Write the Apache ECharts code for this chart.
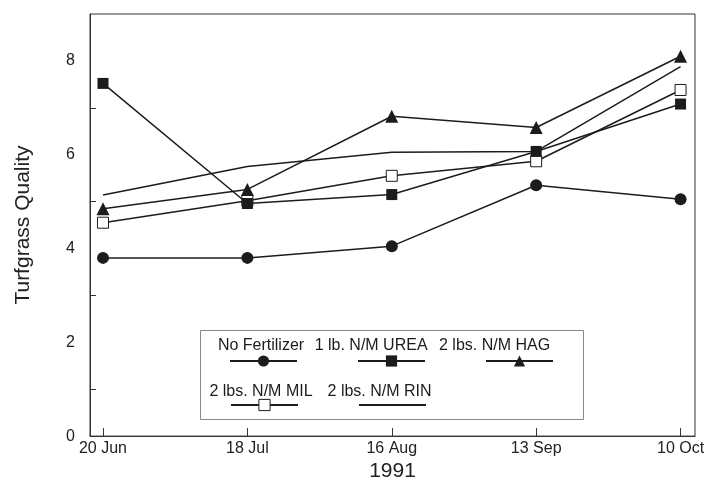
<!DOCTYPE html>
<html>
<head>
<meta charset="utf-8">
<script src="https://cdn.jsdelivr.net/npm/echarts@6/dist/echarts.min.js"></script>
<style>html,body{margin:0;padding:0;background:#fff;}#c{width:710px;height:487px;}</style>
</head>
<body>
<div id="c"></div>
<script>
var dates = ['20 Jun', '18 Jul', '16 Aug', '13 Sep', '10 Oct'];
var yTickLabels = [0, 2, 4, 6, 8];
var noFertilizer = [3.8, 3.8, 4.05, 5.35, 5.05];
var urea1lb = [7.52, 4.96, 5.15, 6.07, 7.08];
var hag2lbs = [4.85, 5.26, 6.82, 6.58, 8.1];
var mil2lbs = [4.55, 5.02, 5.55, 5.86, 7.38];
var rin2lbs = [5.14, 5.75, 6.05, 6.07, 7.88];
var names = ['No Fertilizer', '1 lb. N/M UREA', '2 lbs. N/M HAG', '2 lbs. N/M MIL', '2 lbs. N/M RIN'];

var INK = '#1c1c1c';
var FONT = 'Liberation Sans, Arial, sans-serif';
function pts(arr) { return arr.map(function (v, i) { return [i, v]; }); }

function mkSeries(name, arr, symbol, size, itemStyle, z, showSymbol) {
  return {
    name: name, type: 'line', data: pts(arr),
    symbol: symbol, symbolSize: size, showSymbol: showSymbol !== false,
    lineStyle: { color: INK, width: 1.5 },
    itemStyle: itemStyle,
    emphasis: { disabled: true },
    z: z
  };
}

var textLegendBase = {
  orient: 'horizontal', padding: 0, icon: 'none', itemWidth: 0, itemHeight: 0, itemGap: 0,
  selectedMode: false,
  formatter: function (n) { return '{t|' + n + '}'; },
  textStyle: { rich: { t: { width: 124, align: 'center', fontSize: 16, fontFamily: FONT, color: INK } } }
};
var iconLegendBase = {
  orient: 'horizontal', padding: 0, itemWidth: 67, itemHeight: 14, itemGap: 59,
  selectedMode: false,
  itemStyle: { borderWidth: 1 },
  formatter: function () { return ''; }
};

var option = {
  animation: false,
  backgroundColor: '#fff',
  grid: { left: 90, right: 15, top: 14, bottom: 50, show: true, borderColor: '#333', borderWidth: 1 },
  xAxis: {
    type: 'value', min: -0.09, max: 4.1,
    name: '1991', nameLocation: 'middle', nameGap: 22,
    nameTextStyle: { fontSize: 21, fontFamily: FONT, color: '#222' },
    axisLine: { show: true, onZero: false, lineStyle: { color: '#333', width: 1 } },
    axisTick: { show: true, inside: true, length: 8, customValues: [0, 1, 2, 3, 4], lineStyle: { color: '#333' } },
    axisLabel: { customValues: [0, 1, 2, 3, 4], formatter: function (v) { return dates[Math.round(v)]; }, fontSize: 16, fontFamily: FONT, color: '#222', margin: 4 },
    splitLine: { show: false }
  },
  yAxis: {
    type: 'value', min: 0, max: 9, interval: 1,
    name: 'Turfgrass Quality', nameLocation: 'middle', nameGap: 56,
    nameTextStyle: { fontSize: 21, fontFamily: FONT, color: '#222' },
    axisLine: { show: true, onZero: false, lineStyle: { color: '#333', width: 1 } },
    axisTick: { show: true, inside: true, length: 6, customValues: [1, 3, 5, 7], lineStyle: { color: '#333' } },
    axisLabel: { customValues: yTickLabels, fontSize: 16, fontFamily: FONT, color: '#222', margin: 15 },
    splitLine: { show: false }
  },
  legend: [
    Object.assign({}, textLegendBase, { left: 194, top: 338, data: names.slice(0, 3) }),
    Object.assign({}, textLegendBase, { left: 194, top: 384, data: names.slice(3) }),
    Object.assign({}, iconLegendBase, { left: 229, top: 354, data: names.slice(0, 3) }),
    Object.assign({}, iconLegendBase, { left: 230, top: 398, data: names.slice(3) })
  ],
  graphic: [{
    type: 'rect', left: 200, top: 330, z: 1,
    shape: { width: 383, height: 89 },
    style: { fill: '#fff', stroke: '#888', lineWidth: 1 }
  }],
  series: [
    mkSeries(names[0], noFertilizer, 'circle', 12, { color: INK }, 3),
    mkSeries(names[1], urea1lb, 'rect', 11, { color: INK }, 5),
    mkSeries(names[2], hag2lbs, 'triangle', 13, { color: INK }, 4),
    mkSeries(names[3], mil2lbs, 'rect', 11, { color: '#fff', borderColor: INK, borderWidth: 1 }, 3),
    mkSeries(names[4], rin2lbs, 'circle', 0, { color: 'rgba(0,0,0,0)', borderWidth: 0 }, 3, false)
  ]
};
var chart = echarts.init(document.getElementById('c'), null, { renderer: 'canvas' });
chart.setOption(option);
</script>
</body>
</html>
